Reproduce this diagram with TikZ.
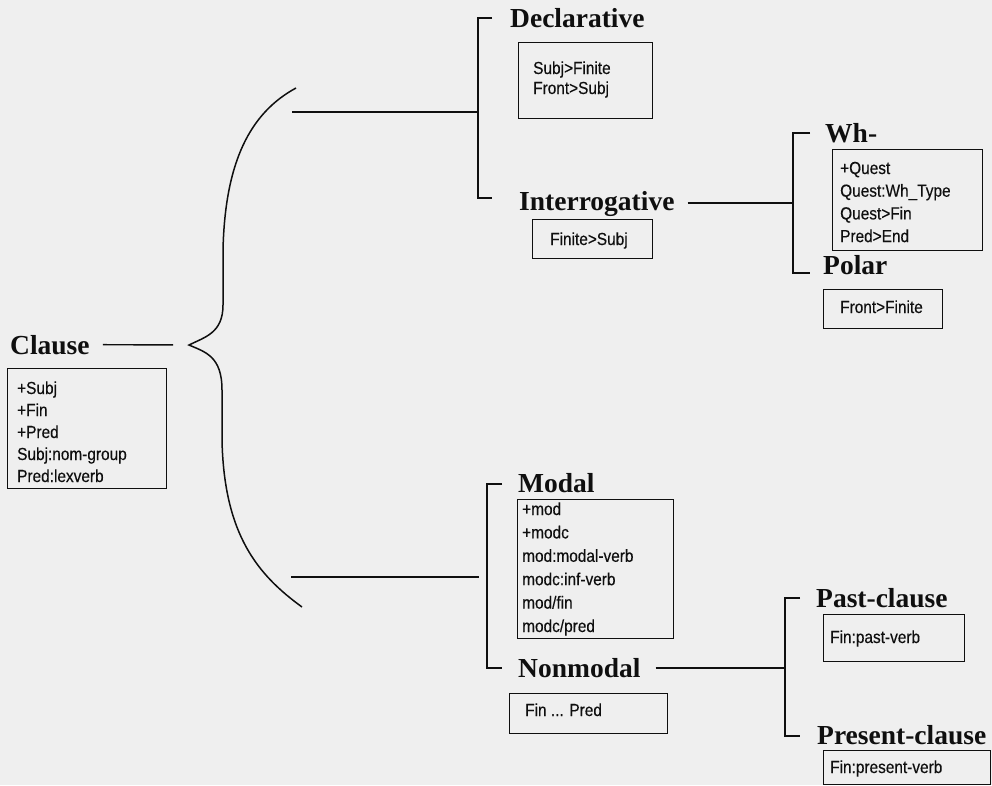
\documentclass[tikz,border=0pt]{standalone}
\usepackage{fontspec}
\setmainfont{Liberation Serif}
\newfontfamily\boxfont[FakeStretch=0.88,FakeBold=0.3]{Liberation Sans}
\definecolor{bg}{RGB}{239,239,239}
\definecolor{ink}{RGB}{15,15,15}
\begin{document}
\begin{tikzpicture}[x=1pt,y=-1pt,
  head/.style={anchor=base west,inner sep=0pt,font=\fontsize{27.5}{30}\selectfont\bfseries,text=ink},
  feat/.style={anchor=base west,inner sep=0pt,font=\boxfont\fontsize{17.5}{19}\selectfont,text=ink},
  fbox/.style={draw=ink,line width=1.3pt,anchor=north west,inner sep=0pt},
  conn/.style={draw=ink,line width=1.4pt}]
\fill[bg] (0,0) rectangle (992,785);
\useasboundingbox (0,0) rectangle (992,785);

% headings
\node[head] (clause)   at (10,354)  {Clause};
\node[head] (decl)     at (510,27)  {Declarative};
\node[head] (interrog) at (519,210) {Interrogative};
\node[head] (wh)       at (825,142) {Wh-};
\node[head] (polar)    at (823,274) {Polar};
\node[head] (modal)    at (518,492) {Modal};
\node[head] (nonmodal) at (518,677) {Nonmodal};
\node[head] (past)     at (816,607) {Past-clause};
\node[head] (present)  at (817,744) {Present-clause};

% feature boxes
\node[fbox,minimum width=159,minimum height=120] (clausebox) at (7,368) {};
\foreach \t [count=\i] in {+Subj,+Fin,+Pred,Subj:nom-group,Pred:lexverb}
  \node[feat] (cl\i) at (17,372+22*\i) {\t};

\node[fbox,minimum width=134,minimum height=76] (declbox) at (518,42) {};
\node[feat] (de1) at (533,74) {Subj>Finite};
\node[feat] (de2) at (533,94) {Front>Subj};

\node[fbox,minimum width=120,minimum height=39] (interbox) at (532,219) {};
\node[feat] (in1) at (550,245) {Finite>Subj};

\node[fbox,minimum width=150,minimum height=101] (whbox) at (832,149) {};
\foreach \t [count=\i] in {+Quest,{Quest:Wh\_Type},Quest>Fin,Pred>End}
  \node[feat] (wh\i) at (840,151.3+22.7*\i) {\t};

\node[fbox,minimum width=119,minimum height=39] (polarbox) at (823,289) {};
\node[feat] (po1) at (840,313) {Front>Finite};

\node[fbox,minimum width=156,minimum height=139] (modalbox) at (517,499) {};
\foreach \t [count=\i] in {+mod,+modc,mod:modal-verb,modc:inf-verb,mod/fin,modc/pred}
  \node[feat] (mo\i) at (522,491.6+23.4*\i) {\t};

\node[fbox,minimum width=158,minimum height=40] (nonbox) at (509,693) {};
\node[feat] (nm1) at (525,716) {Fin ... Pred};

\node[fbox,minimum width=141,minimum height=47] (pastbox) at (823,614) {};
\node[feat] (pa1) at (830,643) {Fin:past-verb};

\node[fbox,minimum width=167,minimum height=34] (presbox) at (823,750) {};
\node[feat] (pr1) at (830,773) {Fin:present-verb};

% brace
\coordinate (bracetip) at (189,345);
\draw[conn,line width=1.5pt] (296,88) .. controls (250,113) and (225,162) .. (223,250)
  -- (223,305) .. controls (223,333) and (205,337) .. (bracetip)
  .. controls (205,352) and (222,356) .. (222,390)
  -- (222,440) .. controls (224,535) and (258,575) .. (302,607);
\draw[conn,shorten <=13pt,shorten >=16pt] (clause.east) -- (bracetip);

% lines from brace
\coordinate (bru) at (292,112);
\coordinate (upj) at (478,112);
\coordinate (brl) at (291,577);
\coordinate (lowj) at (479,577);
\draw[conn] (bru) -- (upj);
\draw[conn] (brl) -- (lowj);

% brackets
\draw[conn] (492,18) -- (478,18) -- (478,198) -- (492,198);
\draw[conn] (810,133) -- (793,133) -- (793,273) -- (810,273);
\draw[conn] (502,484) -- (487,484) -- (487,668) -- (502,668);
\draw[conn] (800,598) -- (785,598) -- (785,736) -- (800,736);

% joins
\coordinate (whjoin) at (793,203);
\coordinate (pastjoin) at (785,668);
\draw[conn] ([xshift=13pt]interrog.east |- whjoin) -- (whjoin);
\draw[conn] ([xshift=15pt]nonmodal.east |- pastjoin) -- (pastjoin);
\end{tikzpicture}
\end{document}
